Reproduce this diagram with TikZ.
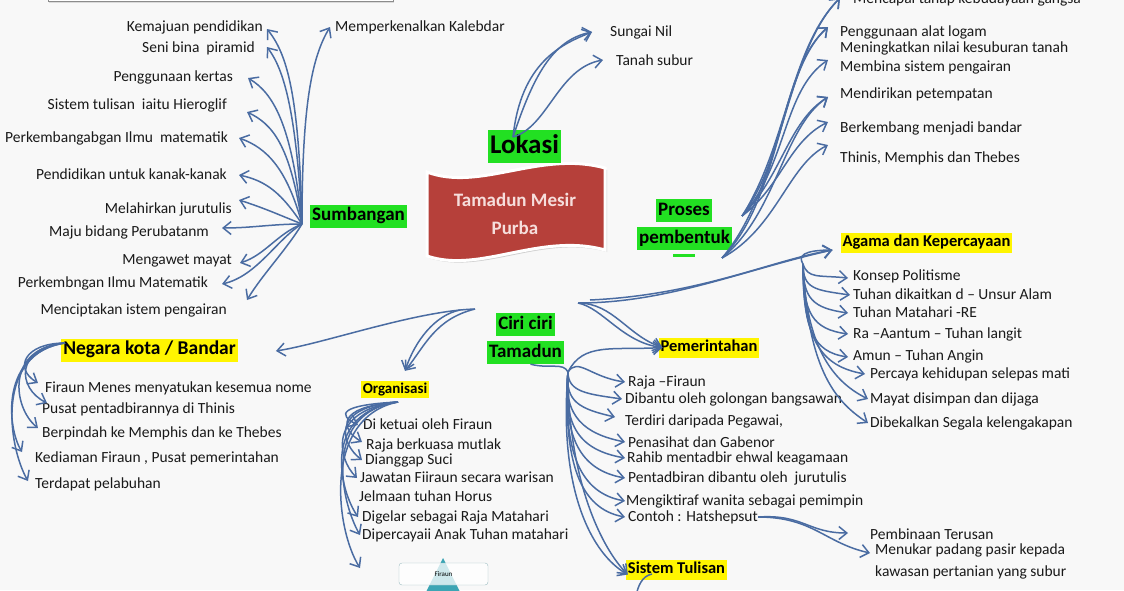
\documentclass[tikz,border=0pt]{standalone}
\usepackage{fontspec}
\setmainfont{Carlito}
\usetikzlibrary{arrows.meta,shadows}
\definecolor{bg}{RGB}{248,248,248}
\definecolor{grn}{RGB}{34,224,34}
\definecolor{yel}{RGB}{255,245,0}
\definecolor{arrc}{RGB}{74,108,162}
\definecolor{bannerc}{RGB}{182,64,58}
\definecolor{bantxt}{RGB}{246,222,220}
\definecolor{txt}{RGB}{25,25,25}
\definecolor{pyr}{RGB}{60,165,180}
\tikzset{
 lbl/.style={font=\fontsize{15.5}{18}\selectfont, text=txt, inner sep=0pt, text height=11pt, text depth=3pt},
 gbox/.style={fill=grn, text=black, font=\bfseries\fontsize{19}{22}\selectfont, inner xsep=2pt, inner ysep=3pt, text height=13pt, text depth=4pt},
 ybox/.style={fill=yel, text=black, font=\bfseries\fontsize{16.5}{20}\selectfont, inner xsep=2pt, inner ysep=2.5pt, text height=11.5pt, text depth=3.5pt},
 arr/.style={draw=arrc, line width=1.5pt, -{Straight Barb[length=8pt,width=13pt]}},
 ln/.style={draw=arrc, line width=1.5pt},
}
\begin{document}
\begin{tikzpicture}[x=1pt,y=-1pt]
\useasboundingbox (0,0) rectangle (1124,590);
\clip (0,0) rectangle (1124,590);
\fill[bg] (0,0) rectangle (1124,590);

% top-left cropped box
\draw[black!45, fill=white, line width=1pt, drop shadow={shadow xshift=1pt,shadow yshift=-1.5pt,fill=black!25}] (48,-10) rectangle (393,1);

% banner
\path[fill=bannerc, draw=white, line width=3pt, drop shadow={shadow xshift=2pt,shadow yshift=-2pt,fill=black!35}]
 (427,172) .. controls (480,192) and (540,150) .. (605,168) -- (605,250) .. controls (540,232) and (480,274) .. (427,256) -- cycle;
\node[font=\bfseries\fontsize{19}{22}\selectfont, text=bantxt] (ban1) at (515,200) {Tamadun Mesir};
\node[font=\bfseries\fontsize{19}{22}\selectfont, text=bantxt] (ban2) at (515,228) {Purba};

% main boxes
\node[gbox] (sumb) at (358.5,216) {Sumbangan};
\node[gbox, font=\bfseries\fontsize{27}{30}\selectfont, text height=18pt, text depth=5pt, inner ysep=5pt] (lok) at (524.5,146.5) {Lokasi};
\node[gbox] (pros1) at (684,210.5) {Proses};
\node[gbox] (pros2) at (684.5,238.5) {pembentuk};
\fill[grn] (673,254) rectangle (695,257);
\node[gbox] (ciri1) at (525.5,324.5) {Ciri ciri};
\node[gbox] (ciri2) at (525.5,352.5) {Tamadun};
\node[ybox, font=\bfseries\fontsize{19.5}{22}\selectfont, text height=13pt, text depth=4pt, inner ysep=3pt] (negara) at (149.5,350) {Negara kota / Bandar};
\node[ybox, font=\bfseries\fontsize{15}{18}\selectfont, inner ysep=1.5pt, text height=11pt, text depth=3pt] (org) at (395,389.5) {Organisasi};
\node[ybox] (agama) at (926.5,242.5) {Agama dan Kepercayaan};
\node[ybox] (pem) at (709,347.5) {Pemerintahan};
\node[ybox] (sist) at (676.5,569.5) {Sistem Tulisan};

% Sumbangan labels
\node[lbl, anchor=east] (s1) at (263,27) {Kemajuan pendidikan};
\node[lbl, anchor=east] (s2) at (255,48) {Seni bina\ \ piramid};
\node[lbl, anchor=east] (s3) at (233,77) {Penggunaan kertas};
\node[lbl, anchor=east] (s4) at (227,105) {Sistem tulisan\ \ iaitu Hieroglif};
\node[lbl, anchor=east] (s5) at (228,138) {Perkembangabgan Ilmu\ \ matematik};
\node[lbl, anchor=east] (s6) at (227,175) {Pendidikan untuk kanak-kanak};
\node[lbl, anchor=east] (s7) at (232,209) {Melahirkan jurutulis};
\node[lbl, anchor=east] (s8) at (209,232) {Maju bidang Perubatanm};
\node[lbl, anchor=east] (s9) at (232,260) {Mengawet mayat};
\node[lbl, anchor=east] (s10) at (208,283) {Perkembngan Ilmu Matematik};
\node[lbl, anchor=east] (s11) at (227,310) {Menciptakan istem pengairan};
\node[lbl, anchor=west] (s12) at (335,27) {Memperkenalkan Kalebdar};

% Lokasi labels
\node[lbl, anchor=west] (nil) at (610,32) {Sungai Nil};
\node[lbl, anchor=west] (tanah) at (616,61) {Tanah subur};

% Proses labels
\node[lbl, anchor=west] (p0) at (853,-1) {Mencapai tahap kebudayaan gangsa};
\node[lbl, anchor=west] (p1) at (840,32) {Penggunaan alat logam};
\node[lbl, anchor=west] (p2) at (840,48) {Meningkatkan nilai kesuburan tanah};
\node[lbl, anchor=west] (p3) at (840,67) {Membina sistem pengairan};
\node[lbl, anchor=west] (p4) at (840,94) {Mendirikan petempatan};
\node[lbl, anchor=west] (p5) at (840,128) {Berkembang menjadi bandar};
\node[lbl, anchor=west] (p6) at (840,158) {Thinis, Memphis dan Thebes};

% Agama labels
\node[lbl, anchor=west] (ag1) at (853,276) {Konsep Politisme};
\node[lbl, anchor=west] (ag2) at (853,295) {Tuhan dikaitkan d – Unsur Alam};
\node[lbl, anchor=west] (ag3) at (853,313) {Tuhan Matahari -RE};
\node[lbl, anchor=west] (ag4) at (853,334) {Ra –Aantum – Tuhan langit};
\node[lbl, anchor=west] (ag5) at (853,356) {Amun – Tuhan Angin};
\node[lbl, anchor=west] (ag6) at (870,374) {Percaya kehidupan selepas mati};
\node[lbl, anchor=west] (ag7) at (870,399) {Mayat disimpan dan dijaga};
\node[lbl, anchor=west] (ag8) at (870,423) {Dibekalkan Segala kelengakapan};

% Pemerintahan labels
\node[lbl, anchor=west] (pe1) at (628,382) {Raja –Firaun};
\node[lbl, anchor=west] (pe2) at (625,399) {Dibantu oleh golongan bangsawan};
\node[lbl, anchor=west] (pe3) at (625,421) {Terdiri daripada Pegawai,};
\node[lbl, anchor=west] (pe4) at (628,443) {Penasihat dan Gabenor};
\node[lbl, anchor=west] (pe5) at (627,458) {Rahib mentadbir ehwal keagamaan};
\node[lbl, anchor=west] (pe6) at (628,478) {Pentadbiran dibantu oleh\ \ jurutulis};
\node[lbl, anchor=west] (pe7) at (626,501) {Mengiktiraf wanita sebagai pemimpin};
\node[lbl, anchor=west] (pe8) at (628,517) {Contoh : Hatshepsut};
\node[lbl, anchor=west] (pemb) at (870,535) {Pembinaan Terusan};
\node[lbl, anchor=west] (menu) at (875,550) {Menukar padang pasir kepada};
\node[lbl, anchor=west] (kaw) at (875,572) {kawasan pertanian yang subur};

% Negara labels
\node[lbl, anchor=west] (n1) at (45,388) {Firaun Menes menyatukan kesemua nome};
\node[lbl, anchor=west] (n2) at (42,409) {Pusat pentadbirannya di Thinis};
\node[lbl, anchor=west] (n3) at (42,433) {Berpindah ke Memphis dan ke Thebes};
\node[lbl, anchor=west] (n4) at (35,458) {Kediaman Firaun , Pusat pemerintahan};
\node[lbl, anchor=west] (n5) at (35,484) {Terdapat pelabuhan};

% Organisasi labels
\node[lbl, anchor=west] (o1) at (363,425) {Di ketuai oleh Firaun};
\node[lbl, anchor=west] (o2) at (366,445) {Raja berkuasa mutlak};
\node[lbl, anchor=west] (o3) at (365,460) {Dianggap Suci};
\node[lbl, anchor=west] (o4) at (360,478) {Jawatan Fiiraun secara warisan};
\node[lbl, anchor=west] (o5) at (359,497) {Jelmaan tuhan Horus};
\node[lbl, anchor=west] (o6) at (362,517) {Digelar sebagai Raja Matahari};
\node[lbl, anchor=west] (o7) at (362,535) {Dipercayaii Anak Tuhan matahari};

% pyramid + Firaun box
\fill[pyr] (443,558) -- (410,624) -- (476,624) -- cycle;
\node[draw=pyr!50!gray!60, fill=white, fill opacity=0.75, text opacity=1, rounded corners=3pt, minimum width=89pt, minimum height=22pt, inner sep=0pt, font=\fontsize{7}{8}\selectfont] (fir) at (443.5,574) {Firaun};

% hubs
\coordinate (hS) at (302,224);
\coordinate (hL) at (513,137);
\coordinate (hP1) at (742,216);
\coordinate (hP2) at (722,258);
\coordinate (hCL) at (475,309);
\coordinate (hCL2) at (460,310);
\coordinate (hCR) at (578,303);
\coordinate (hCR2) at (590,300);
\coordinate (hPm) at (568,372);
\coordinate (hA) at (803,264);
\coordinate (hN) at (65,343);
\coordinate (hO) at (398,402);
\coordinate (oX) at (360,568);
\coordinate (stEnd) at (636,596);
\coordinate (stBeg) at (652,574);

% Sumbangan connectors
\draw[arr] (hS) .. controls +(0,-120) and +(-18,30) .. ([shift={(-5,0)}]s12.west);
\draw[arr] (hS) .. controls +(-3,-130) and +(20,25) .. ([shift={(4,2)}]s1.east);
\draw[arr] (hS) .. controls +(-6,-120) and +(15,20) .. ([shift={(12,-1)}]s2.east);
\draw[arr] (hS) .. controls +(-10,-100) and +(25,15) .. ([shift={(15,1)}]s3.east);
\draw[arr] (hS) .. controls +(-12,-80) and +(25,12) .. ([shift={(20,7)}]s4.east);
\draw[arr] (hS) .. controls +(-15,-55) and +(28,10) .. ([shift={(11,0)}]s5.east);
\draw[arr] (hS) .. controls +(-20,-30) and +(28,6) .. ([shift={(12,0)}]s6.east);
\draw[arr] (hS) .. controls +(-25,-10) and +(25,8) .. ([shift={(7,-9)}]s7.east);
\draw[arr] (hS) .. controls +(-30,0) and +(30,0) .. ([shift={(13,-4)}]s8.east);
\draw[arr] (hS) .. controls +(-25,10) and +(25,-8) .. ([shift={(8,3)}]s9.east);
\draw[arr] (hS) .. controls +(-25,15) and +(35,-8) .. ([shift={(14,1)}]s10.east);
\draw[arr] (hS) .. controls +(-15,25) and +(15,-25) .. ([shift={(20,-10)}]s11.east);

% Lokasi connectors
\draw[arr] (hL) .. controls +(20,-60) and +(-40,8) .. ([shift={(-18,0)}]nil.west);
\draw[arr] (hL) .. controls +(8,-75) and +(-30,12) .. ([shift={(-18,0)}]nil.west);
\draw[arr] (hL) .. controls +(35,-10) and +(-45,8) .. ([shift={(-13,-1)}]tanah.west);

% Proses connectors
\draw[arr] (hP1) .. controls +(45,-70) and +(-50,50) .. ([shift={(-13,-1)}]p0.west);
\draw[arr] (hP1) .. controls +(45,-60) and +(-45,40) .. ([shift={(-12,-5)}]p1.west);
\draw[arr] (hP1) .. controls +(45,-50) and +(-45,30) .. ([shift={(-12,-7)}]p3.west);
\draw[arr] (hP1) .. controls +(40,-40) and +(-40,25) .. ([shift={(-12,3)}]p4.west);
\draw[arr] (hP1) .. controls +(40,-30) and +(-40,20) .. ([shift={(-12,-6)}]p5.west);
\draw[arr] (hP2) .. controls +(60,-70) and +(-55,55) .. ([shift={(-13,-1)}]p0.west);
\draw[arr] (hP2) .. controls +(60,-60) and +(-50,45) .. ([shift={(-12,-5)}]p1.west);
\draw[arr] (hP2) .. controls +(55,-45) and +(-45,30) .. ([shift={(-12,3)}]p4.west);
\draw[arr] (hP2) .. controls +(55,-30) and +(-40,20) .. ([shift={(-12,-13)}]p6.west);

% Ciri ciri left
\draw[arr] (hCL) .. controls +(-60,2) and +(50,-8) .. ([shift={(38,1)}]negara.east);
\draw[arr] (hCL2) .. controls +(-25,5) and +(10,-30) .. ([shift={(10,-10)}]org.north);
\draw[arr] (hCL) .. controls +(-40,10) and +(20,-25) .. ([shift={(10,-10)}]org.north);

% Ciri ciri right
\coordinate (agTip) at ([shift={(-8,7.5)}]agama.west);
\draw[arr] (hCR) .. controls +(90,0) and +(-90,20) .. (agTip);
\draw[arr] (hCR2) .. controls +(110,-5) and +(-60,10) .. (agTip);
\draw[arr] (hCR) .. controls +(35,0) and +(-35,-12) .. ([shift={(4,0)}]pem.west);
\draw[arr] (hCR) .. controls +(25,5) and +(-40,-5) .. ([shift={(4,0)}]pem.west);
\draw[ln] ([xshift=5pt]ciri2.south) .. controls +(20,5) and +(-5,-10) .. (hPm);

% Pemerintahan connectors
\draw[arr] (hPm) .. controls +(15,-30) and +(-50,3) .. ([shift={(4,0)}]pem.west);
\draw[arr] (hPm) .. controls +(10,-15) and +(-35,-5) .. ([shift={(-3,0)}]pe1.west);
\draw[arr] (hPm) .. controls +(0,20) and +(-35,-5) .. ([shift={(-3,0)}]pe2.west);
\draw[arr] (hPm) .. controls +(-3,30) and +(-35,-8) .. ([shift={(-10,-4)}]pe3.west);
\draw[arr] (hPm) .. controls +(-5,45) and +(-40,-8) .. ([shift={(-3,-1)}]pe4.west);
\draw[arr] (hPm) .. controls +(-5,55) and +(-45,-8) .. ([shift={(-2,0)}]pe5.west);
\draw[arr] (hPm) .. controls +(-5,65) and +(-45,-8) .. ([shift={(-3,0)}]pe6.west);
\draw[arr] (hPm) .. controls +(-5,80) and +(-45,-8) .. ([shift={(-1,0)}]pe7.west);
\draw[arr] (hPm) .. controls +(-5,90) and +(-45,-8) .. ([shift={(-3,0)}]pe8.west);
\draw[arr] (hPm) .. controls +(-10,120) and +(-35,-20) .. ([shift={(2,5)}]sist.west);
\draw[arr] (hPm) .. controls +(0,110) and +(-25,-25) .. ([shift={(2,5)}]sist.west);
\draw[ln] (stBeg) .. controls +(-10,2) and +(2,-10) .. (stEnd);

% Hatshepsut
\draw[arr] (pe8.east) .. controls +(45,-3) and +(-40,0) .. ([shift={(-22,-2)}]pemb.west);
\draw[arr] (pe8.east) .. controls +(55,0) and +(-45,-10) .. ([shift={(-5,3)}]menu.west);

% Agama connectors
\draw[ln] (agTip) .. controls +(-30,0) and +(-5,-8) .. (hA);
\draw[arr] (hA) .. controls +(5,15) and +(-30,-3) .. ([shift={(-5,2)}]ag1.west);
\draw[arr] (hA) .. controls +(0,25) and +(-35,-5) .. ([shift={(-3,0)}]ag2.west);
\draw[arr] (hA) .. controls +(0,35) and +(-35,-5) .. ([shift={(-5,0)}]ag3.west);
\draw[arr] (hA) .. controls +(0,50) and +(-35,-5) .. ([shift={(-5,0)}]ag4.west);
\draw[arr] (hA) .. controls +(0,65) and +(-35,-5) .. ([shift={(-5,1)}]ag5.west);
\draw[arr] (hA) .. controls +(0,75) and +(-45,-8) .. ([shift={(-5,0)}]ag6.west);
\draw[arr] (hA) .. controls +(3,90) and +(-30,-15) .. ([shift={(-2,0)}]ag7.west);
\draw[arr] (hA) .. controls +(5,110) and +(-30,-20) .. ([shift={(-2,0)}]ag8.west);

% Negara connectors
\draw[arr] (hN) .. controls +(-40,0) and +(-25,-15) .. ([shift={(-7,-5)}]n1.west);
\draw[arr] (hN) .. controls +(-50,5) and +(-30,-15) .. ([shift={(5,-6)}]n2.west);
\draw[arr] (hN) .. controls +(-60,5) and +(-25,-20) .. ([shift={(-4,-5)}]n3.west);
\draw[arr] (hN) .. controls +(-65,10) and +(-15,-25) .. ([shift={(-13,-6)}]n4.west);
\draw[arr] (hN) .. controls +(-70,10) and +(-20,-35) .. ([shift={(-7,-3)}]n5.west);

% Organisasi connectors
\draw[arr] (hO) .. controls +(-60,3) and +(-20,-10) .. ([shift={(-5,0)}]o1.west);
\draw[arr] (hO) .. controls +(-65,5) and +(-20,-12) .. ([shift={(-4,-3)}]o2.west);
\draw[arr] (hO) .. controls +(-70,5) and +(-20,-15) .. ([shift={(-3,0)}]o3.west);
\draw[arr] (hO) .. controls +(-70,8) and +(-20,-20) .. ([shift={(-3,0)}]o4.west);
\draw[arr] (hO) .. controls +(-75,10) and +(-20,-30) .. ([shift={(-4,0)}]o6.west);
\draw[arr] (hO) .. controls +(-75,10) and +(-20,-35) .. ([shift={(-2,0)}]o7.west);
\draw[arr] (hO) .. controls +(-75,15) and +(-25,-40) .. (oX);
\end{tikzpicture}
\end{document}
